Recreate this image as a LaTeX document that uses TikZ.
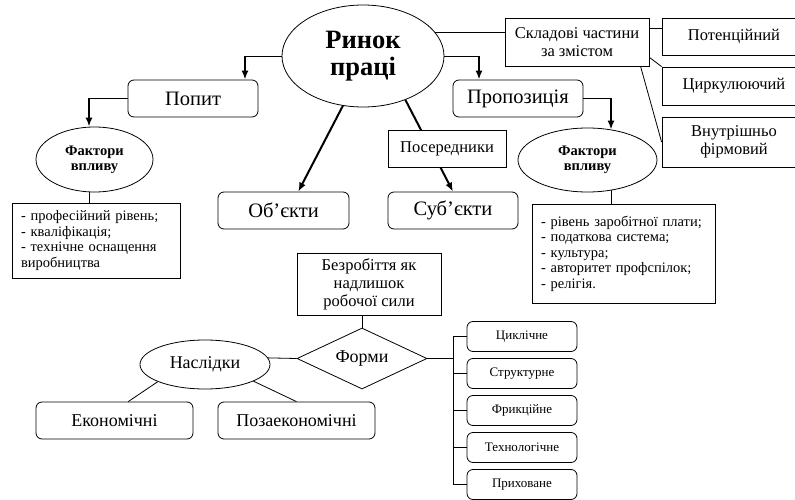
\documentclass[tikz,border=0pt]{standalone}
\usepackage{fontspec}
\setmainfont{Liberation Serif}
\usetikzlibrary{arrows.meta,shapes.geometric}

\begin{document}
\begin{tikzpicture}[x=1pt,y=-1pt,>=Latex,line width=0.8pt,
  rbox/.style={draw,rounded corners=6pt,align=center,inner sep=2pt},
  sbox/.style={draw,align=center,inner sep=2pt},
  lbox/.style={draw,align=left,inner xsep=9pt,inner ysep=2pt,font=\fontsize{14.5}{15.5}\selectfont},
  oval/.style={draw,ellipse,inner sep=0pt,align=center},
  big/.style={font=\fontsize{20.5}{23}\selectfont},
  mid/.style={font=\fontsize{16.5}{18}\selectfont},
  low/.style={font=\fontsize{18}{20}\selectfont},
  small/.style={font=\fontsize{13}{14}\selectfont},
  bigarrow/.style={line width=2pt,-{Latex[length=9pt,width=7pt]}}]
\useasboundingbox (0,0) rectangle (795,500);
\node[oval,minimum width=162pt,minimum height=102pt,font=\fontsize{26.5}{27}\selectfont\bfseries] (rynok) at (363,56) {Ринок\\праці};
\node[rbox,big,minimum width=130pt,minimum height=37pt] (popyt) at (193,98.5) {Попит};
\node[rbox,big,minimum width=130pt,minimum height=37pt] (propoz) at (518,98.5) {Пропозиція};
\node[oval,minimum width=117pt,minimum height=65pt,font=\fontsize{14.5}{15}\selectfont\bfseries] (faktL) at (94.5,159.5) {Фактори\\впливу};
\node[oval,minimum width=139pt,minimum height=64pt,font=\fontsize{14.5}{15}\selectfont\bfseries] (faktR) at (587.5,160) {Фактори\\впливу};
\node[lbox,text width=150pt,minimum height=75pt] (listL) at (96,240.5) {- професійний рівень;\\- кваліфікація;\\- технічне оснащення\\виробництва};
\node[lbox,text width=165pt,minimum height=99pt] (listR) at (623.5,253.5) {- рівень заробітної плати;\\- податкова система;\\- культура;\\- авторитет профспілок;\\- релігія.};
\node[rbox,big,minimum width=131pt,minimum height=37pt] (objekty) at (283.5,210.5) {Об’єкти};
\node[rbox,big,minimum width=130pt,minimum height=37pt] (subjekty) at (453,210.5) {Суб’єкти};
\node[sbox,mid,minimum width=144pt,minimum height=48pt] (skladovi) at (577,42) {Складові частини\\за змістом};
\node[sbox,mid,minimum width=144pt,minimum height=37pt] (potenc) at (734,36.5) {Потенційний};
\node[sbox,mid,minimum width=144pt,minimum height=38pt] (cyrk) at (734,86) {Циркулюючий};
\node[sbox,mid,minimum width=144pt,minimum height=50pt] (vnutr) at (734,142) {Внутрішньо\\фірмовий};
\node[sbox,mid,minimum width=144pt,minimum height=62pt] (bezrob) at (369,284) {Безробіття як\\надлишок\\робочої сили};
\node[draw,diamond,aspect=2,inner sep=0pt,low,minimum width=130pt,minimum height=61pt] (formy) at (362,358.5) {Форми};
\node[oval,low,minimum width=130pt,minimum height=49pt] (naslidky) at (205,364.5) {Наслідки};
\node[rbox,low,minimum width=157pt,minimum height=37pt] (ekon) at (114.5,420.5) {Економічні};
\node[rbox,low,minimum width=157pt,minimum height=37pt] (pozaekon) at (296.5,420.5) {Позаекономічні};
\foreach \txt [count=\i] in {Циклічне,Структурне,Фрикційне,Технологічне,Приховане}
  \node[rbox,small,minimum width=110pt,minimum height=30pt] (f\i) at (522,{336.5+37*(\i-1)}) {\txt};

\coordinate (c1) at (245,56);
\coordinate (c2) at (89,98.5);
\coordinate (c3) at (479,56);
\coordinate (c4) at (611,98.5);
\coordinate (bus) at (453,358.5);
\draw (rynok.west) -- (c1);
\draw[bigarrow] (c1) -- (c1 |- popyt.north);
\draw (popyt.west) -- (c2);
\draw[bigarrow] (c2) -- (c2 |- faktL.north);
\draw (c2 |- faktL.south) -- (c2 |- listL.north);
\draw (rynok.east) -- (c3);
\draw[bigarrow] (c3) -- (c3 |- propoz.north);
\draw (propoz.east) -- (c4);
\draw[bigarrow,shorten >=-2pt] (c4) -- (c4 |- faktR.north);
\draw[shorten <=-2pt] (c4 |- faktR.south) -- (c4 |- listR.north);
\draw[bigarrow] (rynok.248) -- (objekty.52);
\draw[bigarrow] (rynok.-46) -- (subjekty.north);
\node[sbox,mid,fill=white,minimum width=118pt,minimum height=37pt] (poseredn) at (447,148.5) {Посередники};
\draw (rynok.18.6) -- (rynok.18.6 -| skladovi.west);
\draw (potenc.174 -| skladovi.east) -- (potenc.174);
\draw (skladovi.-12) -- (cyrk.north west);
\draw (skladovi.-21.8) -- (vnutr.west);
\draw (formy.north) -- (formy.north |- bezrob.south);
\draw (formy.west) -- (naslidky.6);
\draw (naslidky.200) -- (ekon.54);
\draw (naslidky.-19) -- (pozaekon.north);
\draw (formy.east) -- (bus);
\draw (f1.west -| bus) -- (f5.west -| bus);
\foreach \i in {1,...,5}
  \draw (f\i.west -| bus) -- (f\i.west);
\end{tikzpicture}
\end{document}
